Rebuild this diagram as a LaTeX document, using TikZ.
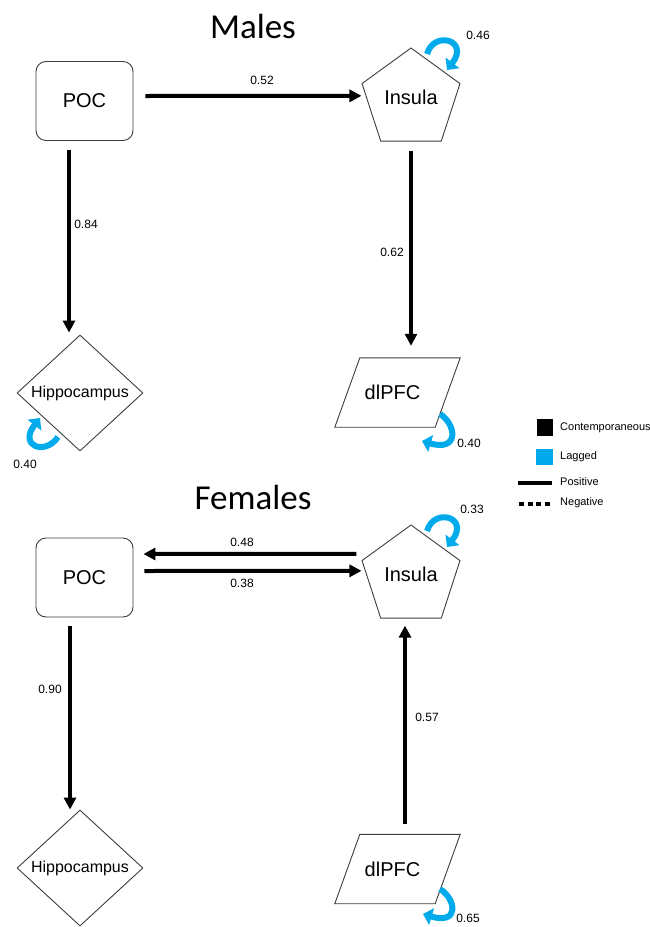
\documentclass[tikz,border=0pt]{standalone}
\usepackage{fontspec}
\setmainfont{Liberation Sans}
\newfontfamily\titlefont{Carlito}
\usetikzlibrary{shapes.geometric,arrows.meta,calc}
\definecolor{lagblue}{RGB}{0,170,235}
\definecolor{edgegray}{RGB}{60,60,60}
\begin{document}
\begin{tikzpicture}[x=1pt,y=-1pt,
  shapebox/.style={draw=edgegray, line width=0.9pt, inner sep=0pt, font=\fontsize{20}{24}\selectfont},
  pocbox/.style={shapebox, rectangle, rounded corners=10pt, minimum width=97pt, minimum height=79pt},
  insbox/.style={shapebox, regular polygon, regular polygon sides=5, minimum size=103pt},
  hipbox/.style={shapebox, diamond, minimum width=126pt, minimum height=116pt, font=\fontsize{16}{19}\selectfont},
  dlbox/.style={rectangle, inner sep=0pt, minimum width=125pt, minimum height=69pt, font=\fontsize{20}{24}\selectfont},
  dloutline/.style={draw=edgegray, line width=0.9pt},
  conn/.style={line width=4pt, -{Triangle[length=12pt,width=12pt]}},
  lagloop/.style={draw=lagblue, line width=6pt, -{Triangle[length=9pt,width=17pt]}},
  wlab/.style={font=\fontsize{12}{14}\selectfont, inner sep=0pt},
  grouptitle/.style={font=\titlefont\fontsize{35}{40}\selectfont, inner sep=0pt},
  legtxt/.style={font=\fontsize{11}{13}\selectfont, anchor=west, inner sep=0pt}
]
\useasboundingbox (0,0) rectangle (650,927);

% ---------- Males ----------
\node[grouptitle] (tMales) at (253,26) {Males};
\node[pocbox] (mPOC) at (84.5,101) {POC};
\node[insbox] (mIns) at (411,99.5) {\raisebox{4pt}{Insula}};
\node[hipbox] (mHip) at (80,393) {Hippocampus};
\node[dlbox] (mDl) at (397.5,392.5) {\hspace*{-10pt}dlPFC};
\draw[dloutline] (mDl.south west) -- ([xshift=25pt]mDl.north west) -- (mDl.north east) -- ([xshift=-25pt]mDl.south east) -- cycle;

\coordinate (mInsB) at ($(mIns.corner 3)!0.5!(mIns.corner 4)$);
\coordinate (mPA) at ([xshift=-15.5pt]mPOC.south);

\draw[conn] ([shift={(12pt,5pt)}]mPOC.east) -- ([yshift=-12.4pt]mIns.corner 2);
\draw[conn, shorten <=9pt, shorten >=12pt] (mInsB) -- (mInsB |- mDl.north);
\draw[conn, shorten <=9pt, shorten >=2pt] (mPA) -- (mPA |- mHip.north);

\node[wlab] (l052) at (262,80) {0.52};
\node[wlab] (l062) at (392,252) {0.62};
\node[wlab] (l084) at (86,224) {0.84};

\draw[lagloop] (427,54) .. controls (434,30) and (470,40) .. (447,70);
\node[wlab] (l046) at (478,35) {0.46};
\draw[lagloop] (440,414) .. controls (456,424) and (460,452) .. (422,441);
\node[wlab] (l040b) at (469,443) {0.40};
\draw[lagloop] (58,437) .. controls (45,456) and (18,446) .. (40,418);
\node[wlab] (l040a) at (25,464) {0.40};

% ---------- Legend ----------
\node[fill=black, minimum size=16.5pt, inner sep=0pt] (legC) at (545,427.5) {};
\node[legtxt] (legCt) at (560,428) {Contemporaneous};
\node[fill=lagblue, minimum size=16.5pt, inner sep=0pt] (legL) at (544.5,457) {};
\node[legtxt] (legLt) at (560,457) {Lagged};
\coordinate (legP1) at (518,483);
\coordinate (legP2) at (552,483);
\draw[line width=4pt] (legP1) -- (legP2);
\node[legtxt] (legPt) at (560,482) {Positive};
\coordinate (legN1) at (519,504);
\coordinate (legN2) at (552,504);
\draw[line width=4.5pt, dash pattern=on 5pt off 3.5pt] (legN1) -- (legN2);
\node[legtxt] (legNt) at (560,503) {Negative};

% ---------- Females ----------
\node[grouptitle] (tFemales) at (253,497) {Females};
\node[pocbox] (fPOC) at (84.5,577.5) {POC};
\node[insbox] (fIns) at (411,576.5) {\raisebox{4pt}{Insula}};
\node[hipbox] (fHip) at (80,868) {Hippocampus};
\node[dlbox] (fDl) at (397.5,869) {\hspace*{-10pt}dlPFC};
\draw[dloutline] (fDl.south west) -- ([xshift=25pt]fDl.north west) -- (fDl.north east) -- ([xshift=-25pt]fDl.south east) -- cycle;

\coordinate (fInsB) at ($(fIns.corner 3)!0.5!(fIns.corner 4)$);
\coordinate (fInsA) at ([xshift=-6pt]fInsB);
\coordinate (fPA) at ([xshift=-14.5pt]fPOC.south);

\draw[conn] ([shift={(-5pt,6.6pt)}]fIns.corner 2) -- ([shift={(10pt,23.5pt)}]fPOC.east);
\draw[conn] ([shift={(11pt,6.5pt)}]fPOC.east) -- ([yshift=-10.4pt]fIns.corner 2);
\draw[conn, shorten <=10pt, shorten >=7pt] (fInsA |- fDl.north) -- (fInsA);
\draw[conn, shorten <=9pt] (fPA) -- (fPA |- fHip.north);

\node[wlab] (l048) at (242,542) {0.48};
\node[wlab] (l038) at (242,583) {0.38};
\node[wlab] (l090) at (50,689) {0.90};
\node[wlab] (l057) at (427,717) {0.57};

\draw[lagloop] (427,531) .. controls (434,507) and (470,517) .. (447,547);
\node[wlab] (l033) at (472,509) {0.33};
\draw[lagloop] (440,889) .. controls (456,899) and (460,925) .. (423,914);
\node[wlab] (l065) at (468,918) {0.65};
\end{tikzpicture}
\end{document}
